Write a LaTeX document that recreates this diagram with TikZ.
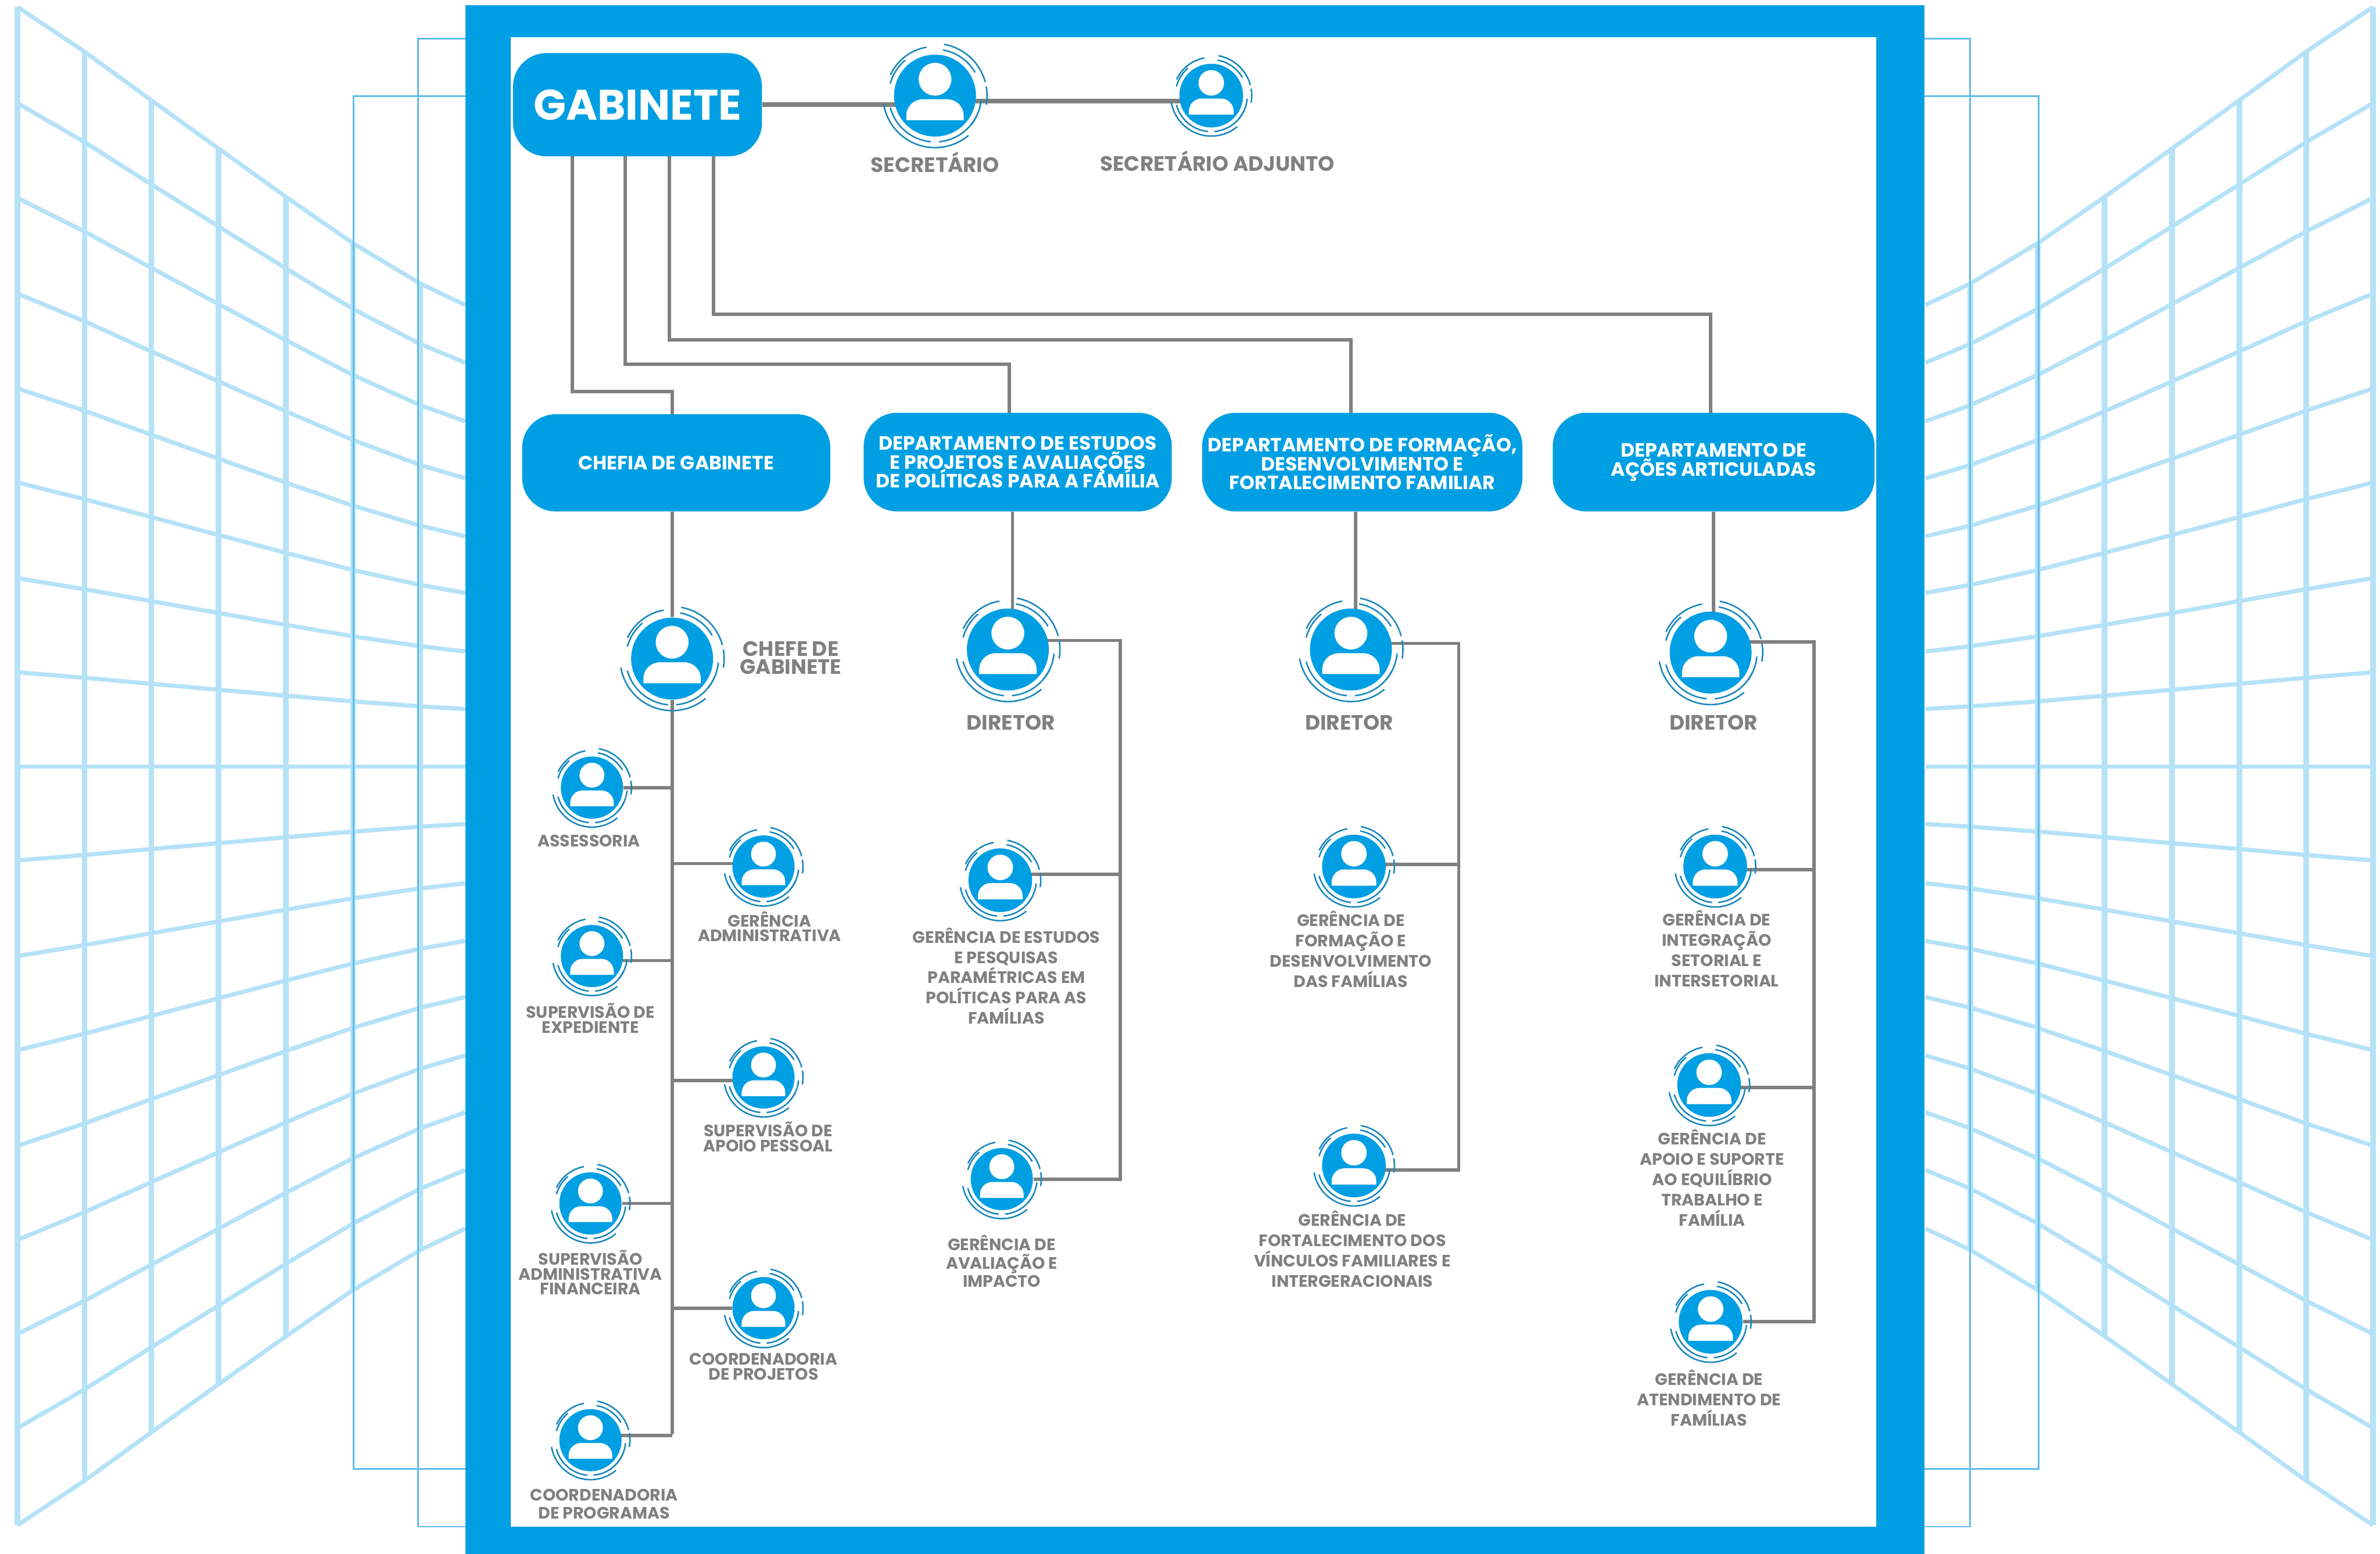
\documentclass[tikz,border=0pt]{standalone}
\usepackage{fontspec}
\setmainfont{Poppins}
\usetikzlibrary{calc}
\setlength{\lineskiplimit}{-20pt}
\pgfdeclarelayer{fundo}
\pgfsetlayers{fundo,main}
\definecolor{azul}{HTML}{009FE3}
\definecolor{grade}{HTML}{B5E2F7}
\definecolor{fino}{HTML}{5DBDE9}
\definecolor{cinza}{HTML}{808080}
\definecolor{anel}{HTML}{1787BC}
\tikzset{
  caixa/.style={fill=azul,text=white,font=\bfseries\fontsize{7.2}{7.1}\selectfont,align=center,rounded corners=0.44cm,inner sep=0},
  linha/.style={draw=cinza,line width=1.25pt},
  linhag/.style={draw=cinza,line width=1.7pt},
  rot/.style={text=cinza,font=\bfseries\fontsize{6.2}{5.6}\selectfont,align=center,inner sep=0},
  rotb/.style={rot,font=\bfseries\fontsize{6.2}{7.6}\selectfont},
  rotc/.style={rot,font=\bfseries\fontsize{6.2}{6.8}\selectfont},
  rotg/.style={rot,font=\bfseries\fontsize{7.8}{6.6}\selectfont},
  aro/.style={draw=anel,line width=0.55pt}
}
% boneco: nome, x, y, raio
\newcommand{\boneco}[4]{
  \node[circle,fill=azul,inner sep=0,minimum size=#4*0.04cm] (#1) at (#2,#3) {};
  \fill[white] (#1) ++(0,-.4*#4) circle[radius=.4*#4];
  \fill[white,rounded corners=#4*0.008cm] (#2-.7*#4,#3+.6*#4) -- (#2-.7*#4,#3+.09*#4) -- (#2+.7*#4,#3+.09*#4) -- (#2+.7*#4,#3+.6*#4);
  \foreach \ai/\af/\rr in {-100/-155/1.2,-165/-130/1.13,-80/-15/1.27,-80/-30/1.13,-10/10/1.27,5/40/1.13,170/50/1.27,165/95/1.13,85/25/1.13}
  \draw[aro] (#2,#3) ++(\ai:\rr*#4) arc[start angle=\ai,end angle=\af,radius=\rr*#4];
}
\begin{document}
\begin{tikzpicture}[x=0.02cm,y=-0.02cm]
\useasboundingbox (0,0) rectangle (1568,1024);
\begin{pgfonlayer}{fundo}
% grade dos dois lados
\foreach \lado in {1,-1} {
  \foreach \ya/\yb in {4.6/201,68/239,130.5/277.6,193.5/315.2,256/353.4,318/390.7,381/429.3,443/467.2,505/505,567/543,630/582,692/620,755/657,817/695.5,879/733,941/771,1005/809.6}
  \draw[grade,line width=1.6pt] ({787.5+\lado*(11.6-787.5)},\ya)
    \foreach \x/\s in {55.7/.15,99.7/.313,144/.475,188.4/.637,232.6/.793,276.9/.928,306.5/1} { -- ({787.5+\lado*(\x-787.5)},{\ya+\s*(\yb-\ya)}) };
  \foreach \x/\s in {11.6/0,55.7/.15,99.7/.313,144/.475,188.4/.637,232.6/.793,276.9/.928}
  \draw[grade,line width=2.1pt] ({787.5+\lado*(\x-787.5)},{4.6+\s*196.4}) -- ({787.5+\lado*(\x-787.5)},{1005-\s*195.4});
}
\draw[fino,line width=0.6pt] (233,63.3) rectangle (1343,968);
\draw[fino,line width=0.6pt] (275.4,25.4) rectangle (1298,1006);
% moldura
\fill[azul] (306.5,3.5) rectangle (1268,1024);
\fill[white] (336.5,24.5) rectangle (1236,1006);
\end{pgfonlayer}
% caixas
\node[caixa,font=\bfseries\fontsize{16}{18}\selectfont,minimum width=164*0.02cm,minimum height=68*0.02cm] (gabinete) at (420,69) {GABINETE};
\node[caixa,minimum width=203*0.02cm,minimum height=64*0.02cm] (chefia) at (445.5,305) {CHEFIA DE GABINETE};
\node[caixa,minimum width=203*0.02cm,minimum height=65*0.02cm] (estudos) at (670.5,304.5) {DEPARTAMENTO DE ESTUDOS\\E PROJETOS E AVALIAÇÕES\\DE POLÍTICAS PARA A FAMÍLIA};
\node[caixa,minimum width=211*0.02cm,minimum height=65*0.02cm] (formacao) at (897.5,304.5) {DEPARTAMENTO DE FORMAÇÃO,\\DESENVOLVIMENTO E\\FORTALECIMENTO FAMILIAR};
\node[caixa,minimum width=212*0.02cm,minimum height=65*0.02cm] (acoes) at (1129,304.5) {DEPARTAMENTO DE\\AÇÕES ARTICULADAS};
% pessoas
\boneco{secretario}{616}{63}{27}
\boneco{adjunto}{798}{63}{21}
\boneco{chefe}{442.8}{434}{27}
\boneco{dir1}{664}{428}{27}
\boneco{dir2}{890}{428}{27}
\boneco{dir3}{1127}{430}{27}
\boneco{assess}{390}{519}{20.5}
\boneco{geradm}{503}{571}{20.5}
\boneco{supexp}{390}{630}{20.5}
\boneco{supapo}{503}{710}{20.5}
\boneco{supadm}{389}{793}{20.5}
\boneco{coproj}{503}{862}{20.5}
\boneco{coprog}{389}{949}{20.5}
\boneco{gerest}{659}{580}{21}
\boneco{geraval}{660}{777}{20.5}
\boneco{gerform}{892}{571}{21}
\boneco{gerfort}{892}{768}{21}
\boneco{gerint}{1130}{571}{21}
\boneco{gerapo}{1126}{715}{21}
\boneco{gerat}{1127}{871}{21}
% pontos das ligacoes
\coordinate (g1) at (377,103);
\coordinate (g2) at (412,103);
\coordinate (g3) at (441,103);
\coordinate (g4) at (470,103);
\coordinate (c1) at (443,273);
\coordinate (c2) at (665,272);
\coordinate (c3) at (890,272);
\coordinate (c4) at (1127,272);
\coordinate (t1) at (442.8,945);
\coordinate (t2) at (738,422);
\coordinate (t3) at (961,424);
\coordinate (t4) at (1195,423);
\begin{pgfonlayer}{fundo}
\draw[linha] (g1) -- ++(0,155) -| (c1);
\draw[linha] (g2) -- ++(0,137) -| (c2);
\draw[linha] (g3) -- ++(0,121) -| (c3);
\draw[linha] (g4) -- ++(0,104) -| (c4);
\draw[linhag] (gabinete.east) -- (gabinete.east -| secretario);
\draw[linhag] (secretario) ++(0,3.5) coordinate (k) -- (k -| adjunto);
\draw[linha] (chefia.south -| chefe) -- (chefe);
\draw[linha] (estudos.south -| dir1) ++(3,0) coordinate (k) -- (k |- dir1);
\draw[linha] (formacao.south -| dir2) ++(3,0) coordinate (k) -- (k |- dir2);
\draw[linha] (acoes.south -| dir3) ++(2,0) coordinate (k) -- (k |- dir3);
% chefia
\draw[linha] (chefe) -- (t1);
\draw[linha] (assess) -- (assess -| t1);
\draw[linha] (geradm) ++(0,-2) coordinate (k) -- (k -| t1);
\draw[linha] (supexp) ++(0,3) coordinate (k) -- (k -| t1);
\draw[linha] (supapo) ++(0,2) coordinate (k) -- (k -| t1);
\draw[linha] (supadm) -- (supadm -| t1);
\draw[linha] (coproj) -- (coproj -| t1);
\draw[linha] (coprog) ++(0,-3) coordinate (k) -- (k -| t1);
% estudos
\draw[linha] (dir1) ++(0,-6) -- (t2) |- (geraval);
\draw[linha] (gerest) ++(0,-4) coordinate (k) -- (k -| t2);
% formacao
\draw[linha] (dir2) ++(0,-4) -- (t3) |- ($(gerfort)+(0,3)$);
\draw[linha] (gerform) ++(0,-1.5) coordinate (k) -- (k -| t3);
% acoes
\draw[linha] (dir3) ++(0,-7) -- (t4) |- (gerat);
\draw[linha] (gerint) ++(0,2) coordinate (k) -- (k -| t4);
\draw[linha] (gerapo) ++(0,1.5) coordinate (k) -- (k -| t4);
\end{pgfonlayer}
% rotulos
\node[rotg] (lsec) at (616,107) {SECRETÁRIO};
\node[rotg] (ladj) at (802,106) {SECRETÁRIO ADJUNTO};
\node[rotg] (lchefe) at (521,433.5) {CHEFE DE\\GABINETE};
\node[rotg] (ldir1) at (666,476) {DIRETOR};
\node[rotg] (ldir2) at (889,476) {DIRETOR};
\node[rotg] (ldir3) at (1129,476) {DIRETOR};
\node[rot] (lassess) at (388,554) {ASSESSORIA};
\node[rot] (lgeradm) at (507,610.5) {GERÊNCIA\\ADMINISTRATIVA};
\node[rot] (lsupexp) at (389,671) {SUPERVISÃO DE\\EXPEDIENTE};
\node[rot] (lsupapo) at (506,749) {SUPERVISÃO DE\\APOIO PESSOAL};
\node[rot] (lsupadm) at (389,838.5) {SUPERVISÃO\\ADMINISTRATIVA\\FINANCEIRA};
\node[rot] (lcoproj) at (503,900.5) {COORDENADORIA\\DE PROJETOS};
\node[rotc] (lcoprog) at (398,991) {COORDENADORIA\\DE PROGRAMAS};
\node[rotb] (lgerest) at (663,643) {GERÊNCIA DE ESTUDOS\\E PESQUISAS\\PARAMÉTRICAS EM\\POLÍTICAS PARA AS\\FAMÍLIAS};
\node[rotc] (lgeraval) at (660,831) {GERÊNCIA DE\\AVALIAÇÃO E\\IMPACTO};
\node[rotb] (lgerform) at (890,625.5) {GERÊNCIA DE\\FORMAÇÃO E\\DESENVOLVIMENTO\\DAS FAMÍLIAS};
\node[rotb] (lgerfort) at (891,823) {GERÊNCIA DE\\FORTALECIMENTO DOS\\VÍNCULOS FAMILIARES E\\INTERGERACIONAIS};
\node[rotb] (lgerint) at (1131,625) {GERÊNCIA DE\\INTEGRAÇÃO\\SETORIAL E\\INTERSETORIAL};
\node[rotb] (lgerapo) at (1128,776) {GERÊNCIA DE\\APOIO E SUPORTE\\AO EQUILÍBRIO\\TRABALHO E\\FAMÍLIA};
\node[rotb] (lgerat) at (1126,921) {GERÊNCIA DE\\ATENDIMENTO DE\\FAMÍLIAS};
\end{tikzpicture}
\end{document}
